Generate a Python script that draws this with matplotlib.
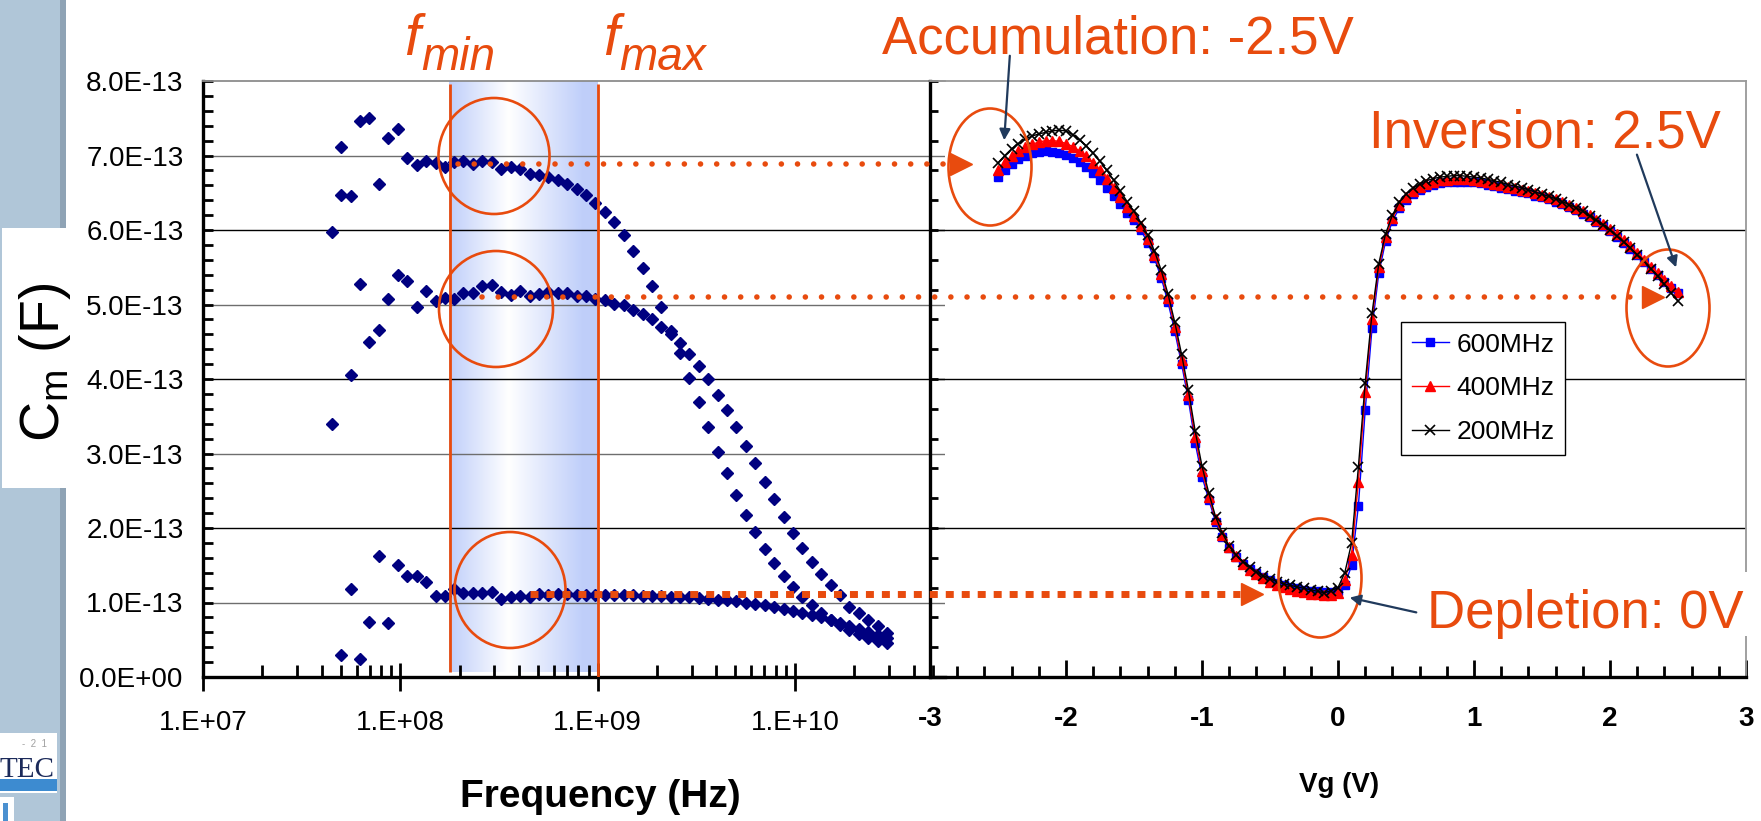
import numpy as np
import matplotlib
matplotlib.use('Agg')
import matplotlib.pyplot as plt
from matplotlib.patches import Rectangle, Ellipse, FancyArrowPatch
from matplotlib.lines import Line2D
from matplotlib.transforms import blended_transform_factory
from matplotlib.ticker import LogLocator, MultipleLocator, NullFormatter

plt.rcParams['font.family'] = ['Liberation Sans', 'DejaVu Sans']

# ---- frequency sweep (left panel), Cm in units of 1e-13 F ----
freq_hz = [4.50e7, 5.02e7, 5.60e7, 6.25e7, 6.98e7, 7.79e7, 8.69e7, 9.70e7, 1.08e8, 1.21e8,
           1.35e8, 1.51e8, 1.68e8, 1.88e8, 2.09e8, 2.34e8, 2.61e8, 2.91e8, 3.25e8, 3.63e8,
           4.05e8, 4.52e8, 5.04e8, 5.63e8, 6.28e8, 7.01e8, 7.82e8, 8.73e8, 9.74e8, 1.09e9,
           1.21e9, 1.36e9, 1.51e9, 1.69e9, 1.88e9, 2.10e9, 2.35e9, 2.62e9, 2.92e9, 3.26e9,
           3.64e9, 4.06e9, 4.53e9, 5.06e9, 5.65e9, 6.30e9, 7.03e9, 7.85e9, 8.76e9, 9.78e9,
           1.09e10, 1.22e10, 1.36e10, 1.52e10, 1.69e10, 1.89e10, 2.11e10, 2.35e10, 2.63e10, 2.93e10]
cm_accum = [5.97, 7.11, 6.45, 7.46, 7.50, 6.62, 7.24, 7.36, 6.96, 6.87, 6.93, 6.90, 6.84, 6.91, 6.93,
            6.89, 6.93, 6.91, 6.82, 6.84, 6.82, 6.75, 6.74, 6.71, 6.67, 6.62, 6.55, 6.47, 6.36, 6.24,
            6.11, 5.93, 5.72, 5.49, 5.25, 4.97, 4.64, 4.35, 4.02, 3.69, 3.36, 3.02, 2.74, 2.44, 2.17,
            1.94, 1.72, 1.53, 1.36, 1.21, 1.08, 0.97, 0.86, 0.77, 0.70, 0.63, 0.58, 0.52, 0.48, 0.45]
cm_inv = [3.39, 6.47, 4.05, 5.27, 4.50, 4.66, 5.08, 5.39, 5.31, 4.96, 5.18, 5.05, 5.09, 5.07, 5.16,
          5.16, 5.25, 5.26, 5.17, 5.13, 5.18, 5.12, 5.14, 5.17, 5.15, 5.15, 5.12, 5.11, 5.08, 5.06,
          5.01, 4.99, 4.92, 4.87, 4.80, 4.70, 4.60, 4.48, 4.34, 4.17, 4.00, 3.79, 3.58, 3.35, 3.10,
          2.87, 2.62, 2.39, 2.15, 1.93, 1.73, 1.54, 1.38, 1.23, 1.10, 0.94, 0.86, 0.77, 0.68, 0.59]
cm_depl = [np.nan, 0.30, 1.18, 0.24, 0.74, 1.63, 0.72, 1.50, 1.35, 1.35, 1.28, 1.09, 1.09, 1.18, 1.13,
           1.13, 1.13, 1.14, 1.05, 1.07, 1.09, 1.07, 1.11, 1.10, 1.12, 1.11, 1.10, 1.10, 1.10, 1.10,
           1.10, 1.10, 1.10, 1.09, 1.09, 1.09, 1.08, 1.08, 1.07, 1.06, 1.05, 1.04, 1.03, 1.02, 1.00,
           0.98, 0.96, 0.94, 0.91, 0.89, 0.86, 0.83, 0.80, 0.76, 0.72, 0.68, 0.64, 0.60, 0.56, 0.52]
f_min, f_max = 1.78e8, 1.0e9
plateau_cm = [6.89, 5.10, 1.11]

y_tick_vals = [0, 1, 2, 3, 4, 5, 6, 7, 8]
y_tick_labels = ['0.0E+00', '1.0E-13', '2.0E-13', '3.0E-13', '4.0E-13',
                 '5.0E-13', '6.0E-13', '7.0E-13', '8.0E-13']
f_tick_vals = [1e7, 1e8, 1e9, 1e10]
f_tick_labels = ['1.E+07', '1.E+08', '1.E+09', '1.E+10']

# ---- C-V sweep (right panel), Cm in units of 1e-13 F ----
vg = [-2.50, -2.45, -2.40, -2.35, -2.30, -2.25, -2.20, -2.15, -2.10, -2.05, -2.00, -1.95, -1.90,
      -1.85, -1.80, -1.75, -1.70, -1.65, -1.60, -1.55, -1.50, -1.45, -1.40, -1.35, -1.30, -1.25,
      -1.20, -1.15, -1.10, -1.05, -1.00, -0.95, -0.90, -0.85, -0.80, -0.75, -0.70, -0.65, -0.60,
      -0.55, -0.50, -0.45, -0.40, -0.35, -0.30, -0.25, -0.20, -0.15, -0.10, -0.05, 0.00, 0.05,
      0.10, 0.15, 0.20, 0.25, 0.30, 0.35, 0.40, 0.45, 0.50, 0.55, 0.60, 0.65, 0.70, 0.75, 0.80,
      0.85, 0.90, 0.95, 1.00, 1.05, 1.10, 1.15, 1.20, 1.25, 1.30, 1.35, 1.40, 1.45, 1.50, 1.55,
      1.60, 1.65, 1.70, 1.75, 1.80, 1.85, 1.90, 1.95, 2.00, 2.05, 2.10, 2.15, 2.20, 2.25, 2.30,
      2.35, 2.40, 2.45, 2.50]
cv_600 = [6.71, 6.80, 6.88, 6.95, 7.00, 7.03, 7.05, 7.06, 7.05, 7.04, 7.01, 6.97, 6.91, 6.84, 6.76,
          6.67, 6.57, 6.46, 6.35,
          6.23, 6.13, 6.00, 5.83, 5.62, 5.36, 5.03, 4.64, 4.20, 3.72, 3.14, 2.69, 2.38, 2.08, 1.88,
          1.73, 1.61, 1.52, 1.45, 1.39, 1.34, 1.30, 1.26, 1.23, 1.21, 1.19, 1.17, 1.16, 1.15, 1.14,
          1.14, 1.16,
          1.23, 1.50, 2.30, 3.58, 4.68, 5.42, 5.85, 6.12, 6.29, 6.40, 6.48, 6.54, 6.58, 6.61, 6.63,
          6.64, 6.65, 6.65, 6.65, 6.64, 6.63, 6.61, 6.59, 6.57, 6.55, 6.53, 6.51, 6.49, 6.46, 6.44,
          6.41, 6.38, 6.35, 6.31, 6.27, 6.22, 6.17, 6.11, 6.05, 5.98, 5.91, 5.83, 5.75, 5.66, 5.57,
          5.48, 5.39, 5.30, 5.22, 5.15]
cv_400 = [6.81, 6.91, 6.99, 7.06, 7.11, 7.15, 7.18, 7.20, 7.20, 7.19, 7.16, 7.12, 7.06, 6.99, 6.90,
          6.80, 6.69, 6.57, 6.44,
          6.31, 6.19, 6.05, 5.88, 5.67, 5.41, 5.09, 4.70, 4.26, 3.78, 3.22, 2.76, 2.42, 2.12, 1.90,
          1.74, 1.62, 1.52, 1.44, 1.38, 1.33, 1.28, 1.24, 1.21, 1.18, 1.16, 1.14, 1.12, 1.11, 1.10,
          1.10, 1.13,
          1.30, 1.64, 2.62, 3.83, 4.81, 5.50, 5.90, 6.16, 6.33, 6.44, 6.52, 6.58, 6.62, 6.65, 6.67,
          6.67, 6.68, 6.68, 6.68, 6.67, 6.66, 6.64, 6.62, 6.60, 6.58, 6.56, 6.54, 6.52, 6.49, 6.47,
          6.44, 6.41, 6.38, 6.34, 6.30, 6.25, 6.20, 6.14, 6.08, 6.01, 5.94, 5.86, 5.78, 5.69, 5.60,
          5.51, 5.42, 5.33, 5.25, 5.17]
cv_200 = [6.90, 7.00, 7.09, 7.16, 7.22, 7.26, 7.29, 7.31, 7.33, 7.34, 7.33, 7.28, 7.21, 7.13, 7.03,
          6.92, 6.80, 6.67, 6.52,
          6.38, 6.25, 6.10, 5.93, 5.72, 5.46, 5.14, 4.76, 4.33, 3.85, 3.30, 2.83, 2.47, 2.15, 1.93,
          1.76, 1.64, 1.55, 1.47, 1.41, 1.36, 1.32, 1.28, 1.25, 1.23, 1.21, 1.19, 1.17, 1.15, 1.13,
          1.16, 1.20,
          1.40, 1.80, 2.82, 3.95, 4.88, 5.55, 5.95, 6.20, 6.37, 6.48, 6.56, 6.62, 6.66, 6.69, 6.71,
          6.72, 6.73, 6.73, 6.72, 6.71, 6.70, 6.68, 6.66, 6.64, 6.61, 6.59, 6.57, 6.54, 6.51, 6.48,
          6.45, 6.42, 6.38, 6.34, 6.30, 6.25, 6.19, 6.13, 6.07, 6.00, 5.92, 5.84, 5.76, 5.67, 5.58,
          5.48, 5.38, 5.27, 5.15, 5.05]
vg_tick_vals = [-3, -2, -1, 0, 1, 2, 3]
vg_tick_labels = ['-3', '-2', '-1', '0', '1', '2', '3']

ORANGE = '#E84B0E'
NAVY = '#000080'
ARROW = '#203A5C'
E13 = 1e-13

W, H = 1761, 821
fig = plt.figure(figsize=(W / 100, H / 100), dpi=100, facecolor='white')


def fx(px):
    return px / W


def fy(py):
    return 1 - py / H


def rect(x0, y0, x1, y1):
    return [fx(x0), fy(y1), (x1 - x0) / W, (y1 - y0) / H]


def fig_rect(x0, y0, x1, y1, color, z=1):
    fig.add_artist(Rectangle((fx(x0), fy(y1)), (x1 - x0) / W, (y1 - y0) / H,
                             transform=fig.transFigure, facecolor=color,
                             edgecolor='none', zorder=z))


# slide side bar and logo
fig_rect(0, 0, 60, H, '#B0C6D8', 0)
fig_rect(60, 0, 66, H, '#8FA3B5', 0)
fig_rect(2, 228, 67, 488, 'white', 0.5)
fig_rect(0, 733, 57, 793, 'white', 0.5)
fig_rect(0, 779, 57, 791, '#3D8BD0', 0.6)
fig.text(fx(55), fy(777), 'TEC', family=['Liberation Serif', 'DejaVu Serif'],
         fontsize=21, color='#1B2A5A', ha='right', va='baseline')
fig.text(fx(34), fy(744), '-  2  1', fontsize=7, color='#A0A0A0', ha='center', va='center')
fig_rect(0, 797, 14, H, 'white', 0.5)
fig_rect(3, 803, 8, H, '#4A90D0', 0.6)

# shaded measurement window between f_min and f_max
band_ax = fig.add_axes(rect(449, 81, 597, 672))
t = np.linspace(0, 1, 256)
shade = np.interp(t, [0, 0.4, 0.9, 1.0], [1.0, 0.0, 1.0, 1.0])
blue = np.array([0.75, 0.81, 0.98])
grad = (1 - shade)[:, None] * np.ones(3) + shade[:, None] * blue
band_ax.imshow(np.tile(grad, (2, 1, 1)), aspect='auto', interpolation='bilinear')
band_ax.axis('off')

# ---- left panel: Cm vs frequency ----
axL = fig.add_axes(rect(203, 81, 945, 677))
axL.set_facecolor('none')
axL.set_xscale('log')
axL.set_xlim(1e7, 10 ** 10.761)
axL.set_ylim(0, 8 * E13)

for v in y_tick_vals[1:-1]:
    axL.axhline(v * E13, color='black' if v % 2 == 0 else '#6E6E6E', lw=1.0, zorder=1)

for series in (cm_accum, cm_inv, cm_depl):
    axL.plot(freq_hz, np.array(series) * E13, ls='none', marker='D', ms=6,
             color=NAVY, mec=NAVY, zorder=3)

axL.vlines(f_min, 0.07 * E13, 7.96 * E13, color=ORANGE, lw=2, zorder=4)
axL.vlines(f_max, 0, 7.96 * E13, color=ORANGE, lw=2, zorder=4)

axL.set_yticks([v * E13 for v in y_tick_vals], y_tick_labels, fontsize=20)
axL.yaxis.set_minor_locator(MultipleLocator(0.2 * E13))
axL.tick_params(axis='y', which='both', direction='in', length=7, width=2, pad=14)
axL.set_xticks(f_tick_vals, f_tick_labels, fontsize=20)
axL.xaxis.set_minor_locator(LogLocator(base=10, subs=range(2, 10), numticks=20))
axL.xaxis.set_minor_formatter(NullFormatter())
axL.tick_params(axis='x', which='major', direction='inout', length=20, width=2, pad=14)
axL.tick_params(axis='x', which='minor', direction='in', length=9, width=2)
for side in ('left', 'bottom'):
    axL.spines[side].set_linewidth(2.4)
axL.spines['top'].set_color('#8C8C8C')
axL.spines['top'].set_linewidth(1.3)
axL.spines['right'].set_visible(False)

# ---- right panel: C-V curves ----
axR = fig.add_axes(rect(930, 81, 1746, 677))
axR.set_facecolor('none')
axR.set_xlim(-3, 3)
axR.set_ylim(0, 8 * E13)
for v in (2, 4, 6):
    axR.axhline(v * E13, color='black', lw=1.0, zorder=1)

axR.plot(vg, np.array(cv_600) * E13, color='#0000FF', marker='s', ms=6, lw=1,
         label='600MHz', zorder=3)
axR.plot(vg, np.array(cv_400) * E13, color='#FF0000', marker='^', ms=7.5, lw=1,
         label='400MHz', zorder=4)
axR.plot(vg, np.array(cv_200) * E13, color='black', marker='x', ms=7, mew=1.2, lw=1,
         label='200MHz', zorder=5)

axR.yaxis.set_major_locator(MultipleLocator(2 * E13))
axR.yaxis.set_minor_locator(MultipleLocator(0.4 * E13))
axR.tick_params(axis='y', which='both', direction='in', length=6, width=2, labelleft=False)
axR.set_xticks(vg_tick_vals, vg_tick_labels, fontsize=20, fontweight='bold')
axR.xaxis.set_minor_locator(MultipleLocator(0.2))
axR.tick_params(axis='x', which='major', direction='in', length=12, width=2, pad=21)
axR.tick_params(axis='x', which='minor', direction='in', length=8, width=2)
for side in ('left', 'bottom'):
    axR.spines[side].set_linewidth(2.4)
for side in ('top', 'right'):
    axR.spines[side].set_color('#999999')
    axR.spines[side].set_linewidth(1.3)

leg = axR.legend(loc='upper left', bbox_to_anchor=(fx(1401), fy(322)),
                 bbox_transform=fig.transFigure, fancybox=False, edgecolor='black',
                 framealpha=1, fontsize=19, handlelength=1.4, handletextpad=0.3,
                 labelspacing=0.75, borderpad=0.4, borderaxespad=0)
leg.get_frame().set_linewidth(1.0)
leg.set_zorder(10)

# axis titles
fig.text(fx(600), fy(797), 'Frequency (Hz)', fontsize=28, fontweight='bold',
         ha='center', va='center')
fig.text(fx(1339), fy(785), 'Vg (V)', fontsize=20, fontweight='bold',
         ha='center', va='center')
fig.text(fx(45), fy(362), r'C$_\mathregular{m}$ (F)', fontsize=40, rotation=90,
         ha='center', va='center')

# f_min / f_max labels
fig.text(fx(404), fy(55), 'f', fontsize=41, style='italic', color=ORANGE, va='baseline')
fig.text(fx(421), fy(70), 'min', fontsize=33, style='italic', color=ORANGE, va='baseline')
fig.text(fx(603), fy(55), 'f', fontsize=41, style='italic', color=ORANGE, va='baseline')
fig.text(fx(619), fy(70), 'max', fontsize=33, style='italic', color=ORANGE, va='baseline')

# dotted guides from the plateaus to the matching bias points
lvl_tr = blended_transform_factory(fig.transFigure, axL.transData)
guides = [((458, 949), (0, (0.01, 2.9)), 'round', 4.0),
          ((482, 1641), (0, (0.01, 2.9)), 'round', 4.0),
          ((530, 1240), (0, (1.15, 1.15)), 'butt', 5.0)]
for lvl, ((x0, x1), dash, cap, lw) in zip(plateau_cm, guides):
    fig.add_artist(Line2D([fx(x0), fx(x1)], [lvl * E13, lvl * E13], transform=lvl_tr,
                          color=ORANGE, lw=lw, linestyle=dash, dash_capstyle=cap, zorder=6))
    fig.add_artist(Line2D([fx(x1 + 11.5)], [lvl * E13], transform=lvl_tr, marker='>',
                          ms=16, color=ORANGE, ls='none', zorder=6))

# highlight circles
for cx, cy, w, h in [(494, 156, 111, 116), (496, 309, 114, 116), (510, 590, 111, 116),
                     (990, 167, 83, 117), (1668, 308, 83, 117), (1320, 578, 83, 119)]:
    fig.add_artist(Ellipse((fx(cx), fy(cy)), w / W, h / H, transform=fig.transFigure,
                           fill=False, edgecolor=ORANGE, lw=1.9, zorder=7))

# callouts
fig.text(fx(882), fy(53), 'Accumulation: -2.5V', fontsize=38, color=ORANGE, va='baseline')
fig.text(fx(1369), fy(148), 'Inversion: 2.5V', fontsize=38, color=ORANGE, va='baseline')
fig_rect(1415, 572, 1756, 636, 'white', 7)
fig.text(fx(1427), fy(628), 'Depletion: 0V', fontsize=38, color=ORANGE, va='baseline',
         zorder=8)
for (x0, y0), (x1, y1) in [((1010, 53), (1004, 143)), ((1636, 152), (1677, 270)),
                           ((1419, 613), (1347, 597))]:
    fig.add_artist(FancyArrowPatch((fx(x0), fy(y0)), (fx(x1), fy(y1)),
                                   transform=fig.transFigure, arrowstyle='-|>',
                                   mutation_scale=16, color=ARROW, lw=1.6, zorder=8))

fig.savefig('out.png', dpi=100, facecolor='white')
